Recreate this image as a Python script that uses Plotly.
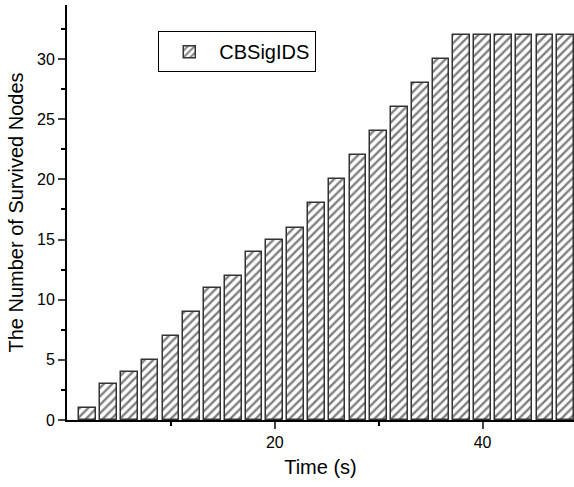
import plotly.graph_objects as go

time_s = [2, 4, 6, 8, 10, 12, 14, 16, 18, 20, 22, 24, 26, 28, 30, 32, 34, 36, 38, 40, 42, 44, 46, 48]
survived = [1, 3, 4, 5, 7, 9, 11, 12, 14, 15, 16, 18, 20, 22, 24, 26, 28, 30, 32, 32, 32, 32, 32, 32]
series_name = "CBSigIDS"
x_ticks = [20, 40]
x_minor = [10, 30]
y_ticks = [0, 5, 10, 15, 20, 25, 30]

fig = go.Figure()
fig.add_trace(go.Bar(
    x=time_s, y=survived, name=series_name, width=1.6,
    marker=dict(color="white", line=dict(color="#333333", width=1.5),
                pattern=dict(shape="/", fgcolor="black", bgcolor="white", size=6, solidity=0.4)),
    showlegend=True,
))

font = "Liberation Sans, Arial, sans-serif"
fig.update_layout(
    width=574, height=487,
    margin=dict(l=67, r=0, t=5, b=67),
    plot_bgcolor="white", paper_bgcolor="white",
    font=dict(family=font, size=16, color="black"),
    showlegend=True,
    legend=dict(x=0.18, y=0.937, xanchor="left", yanchor="top",
                bordercolor="black", borderwidth=1, bgcolor="white",
                font=dict(size=20), itemwidth=50),
    xaxis=dict(range=[0, 48.8], tickvals=x_ticks, ticks="outside", ticklen=7, tickwidth=1.5,
               showline=True, linecolor="black", linewidth=2, showgrid=False, zeroline=False,
               tickfont=dict(size=16),
               title=dict(text="Time (s)", font=dict(size=20), standoff=10),
               minor=dict(tickvals=x_minor, ticks="outside", ticklen=4, tickwidth=1.5, tickcolor="black")),
    yaxis=dict(range=[0, 34.5], tickvals=y_ticks, ticks="outside", ticklen=7, tickwidth=1.5,
               showline=True, linecolor="black", linewidth=2, showgrid=False, zeroline=False,
               tickfont=dict(size=16),
               title=dict(text="The Number of Survived Nodes", font=dict(size=20), standoff=8),
               minor=dict(dtick=2.5, tick0=0, ticks="outside", ticklen=4, tickwidth=1.5, tickcolor="black")),
    bargap=0,
)

fig.write_html("out.html", config={"displayModeBar": False},
               post_script="document.body.style.margin='0';")
